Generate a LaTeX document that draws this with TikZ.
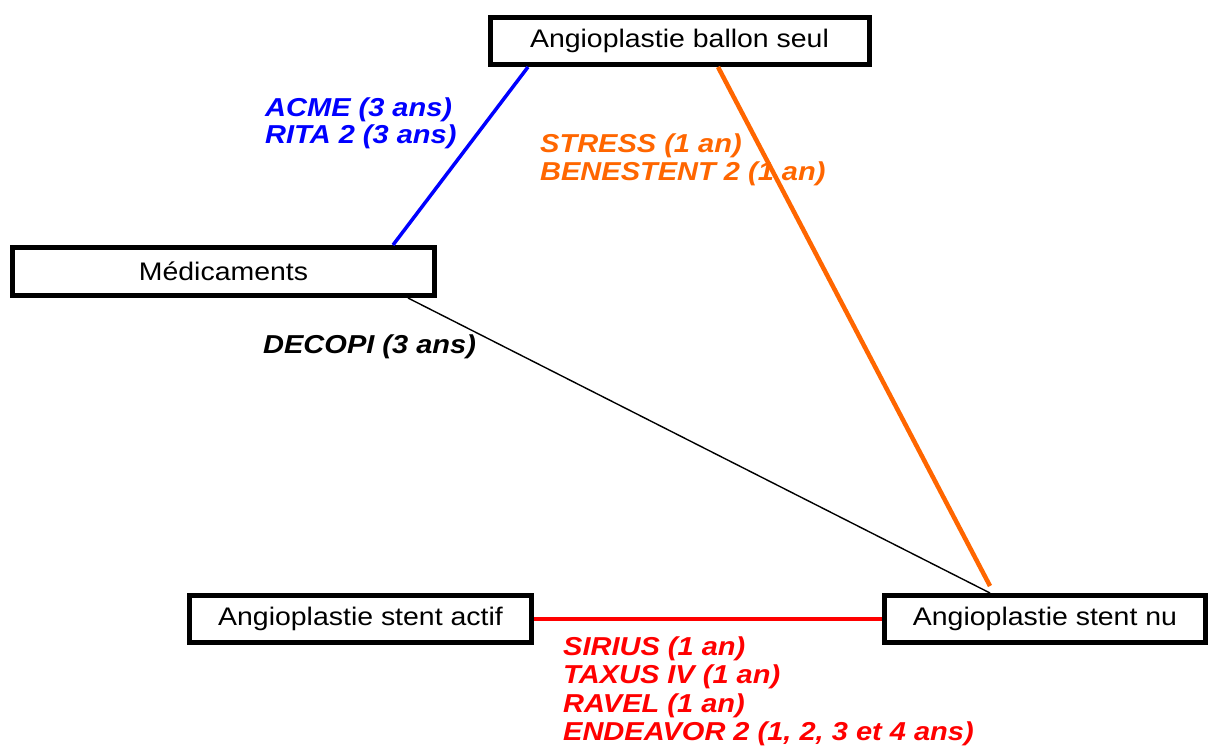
\documentclass[tikz,border=0pt]{standalone}
\usepackage{fontspec}
\setmainfont[FakeStretch=1.12]{Liberation Sans}
\definecolor{lblue}{RGB}{0,0,255}
\definecolor{lorange}{RGB}{255,102,0}
\definecolor{lred}{RGB}{255,0,0}
\begin{document}
\begin{tikzpicture}[x=1pt,y=-1pt,
  box/.style={draw=black,line width=5pt,fill=white,inner sep=0pt,
    font=\fontsize{25.4}{28.5}\selectfont},
  lab/.style={anchor=base west,inner sep=0pt,
    font=\fontsize{25.9}{28.5}\selectfont\bfseries\itshape}]
\useasboundingbox (0,0) rectangle (1210,747);
\node[box,minimum width=379pt,minimum height=47pt] (top) at (679.5,41) {Angioplastie ballon seul};
\node[box,minimum width=422pt,minimum height=48pt] (med) at (223.5,271.5) {Médicaments};
\node[box,minimum width=342pt,minimum height=47pt] (actif) at (360.5,619) {Angioplastie stent actif};
\node[box,minimum width=321pt,minimum height=47pt] (nu) at (1045,619) {Angioplastie stent nu};
\coordinate (oend) at (990,586);
\draw[lblue,line width=3.5pt] ([xshift=40.5pt]top.south west) -- ([xshift=383pt]med.north west);
\draw[lorange,line width=4.5pt] ([xshift=230.5pt]top.south west) -- (oend);
\draw[black,line width=1.4pt] ([xshift=398pt]med.south west) -- ([xshift=108pt]nu.north west);
\draw[lred,line width=4pt] (actif.east) -- (nu.west);
\node[lab,text=lblue] (acme) at (265,116) {ACME (3 ans)};
\node[lab,text=lblue] (rita) at (265,143) {RITA 2 (3 ans)};
\node[lab,text=lorange] (stress) at (540,152) {STRESS (1 an)};
\node[lab,text=lorange] (bene) at (540,180) {BENESTENT 2 (1 an)};
\node[lab,text=black] (decopi) at (263,353) {DECOPI (3 ans)};
\node[lab,text=lred] (sirius) at (563,655) {SIRIUS (1 an)};
\node[lab,text=lred] (taxus) at (563,683) {TAXUS IV (1 an)};
\node[lab,text=lred] (ravel) at (563,712) {RAVEL (1 an)};
\node[lab,text=lred] (endeavor) at (563,740) {ENDEAVOR 2 (1, 2, 3 et 4 ans)};
\end{tikzpicture}
\end{document}
